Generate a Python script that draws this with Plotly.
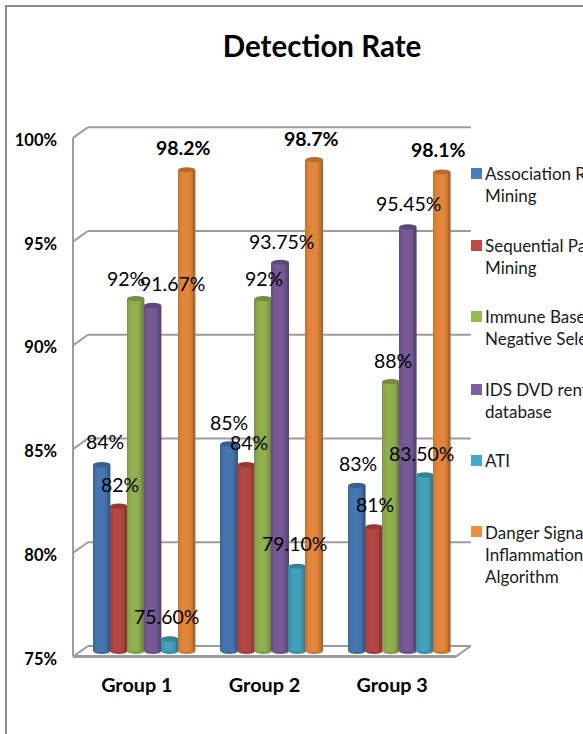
import plotly.graph_objects as go

# Chart data
groups = ["Group 1", "Group 2", "Group 3"]
series_names = [
    "Association Rule<br>Mining",
    "Sequential Pattern<br>Mining",
    "Immune Based<br>Negative Selection",
    "IDS DVD rental<br>database",
    "ATI",
    "Danger Signal<br>Inflammation<br>Algorithm",
]
association = [84, 85, 83]
sequential = [82, 84, 81]
immune = [92, 92, 88]
ids_dvd = [91.67, 93.75, 95.45]
ati = [75.60, 79.10, 83.50]
danger = [98.2, 98.7, 98.1]
series_values = [association, sequential, immune, ids_dvd, ati, danger]

tick_values = [75, 80, 85, 90, 95, 100]
tick_labels = ["75%", "80%", "85%", "90%", "95%", "100%"]

label_texts = [
    ["84%", "85%", "83%"],
    ["82%", "84%", "81%"],
    ["92%", "92%", "88%"],
    ["91.67%", "93.75%", "95.45%"],
    ["75.60%", "79.10%", "83.50%"],
    ["98.2%", "98.7%", "98.1%"],
]
colors = ["#4a7ebb", "#be4b48", "#98b954", "#7d60a0", "#46aac5", "#f08e3e"]

# Hand placement of the value labels, as (dx, dy) pixels from the top of each cylinder
label_nudges = [
    [(3, 23), (0, 21), (1, 22)],
    [(1, 22), (3, 22), (1, 22)],
    [(-10, 20), (1, 20), (2, 21)],
    [(20, 22), (1, 21), (0, 23)],
    [(-3, 22), (-3, 23), (-4, 21)],
    [(-3, 22), (-3, 21), (-4, 22)],
]

W, H = 583, 734

# Plane through the middle of the cylinders, in pixels
PX_PER_GROUP = 127.6
PX_PER_PCT = 20.75
X0_PX = 144.3
Y75_PX = 651.3
DEPTH_X = 7.5 / PX_PER_GROUP
DEPTH_Y = 5.3 / PX_PER_PCT

BAR_W = 17.0 / PX_PER_GROUP
STRIPS = 12
CAP_H = 2.6 / PX_PER_PCT

GRID = "#9c9c9c"
BORDER = "#8c8c8c"
FONT = "Lato, Carlito, Calibri, sans-serif"


def shade(hex_color, f):
    r, g, b = (int(hex_color[i:i + 2], 16) for i in (1, 3, 5))
    return f"rgb({min(255, int(r * f))},{min(255, int(g * f))},{min(255, int(b * f))})"


def cylinder_factor(t):
    # t runs from -1 at the left edge to 1 at the right edge
    return 0.95 - 0.22 * ((t + 0.1) ** 2) ** 1.5


fig = go.Figure()
shapes = []

# Walls and floor sit behind the cylinders
left_f, left_b = -0.5 - DEPTH_X, -0.5 + DEPTH_X
right_f, right_b = 2.5 - DEPTH_X, 2.5 + DEPTH_X
for tick in tick_values:
    shapes.append(dict(type="line", layer="below", x0=left_f, y0=tick - DEPTH_Y, x1=left_b, y1=tick + DEPTH_Y,
                       xref="x", yref="y", line=dict(color=GRID, width=2)))
    shapes.append(dict(type="line", layer="below", x0=left_b, y0=tick + DEPTH_Y, x1=right_b, y1=tick + DEPTH_Y,
                       xref="x", yref="y", line=dict(color=GRID, width=2)))
shapes.append(dict(type="line", layer="below", x0=left_f, y0=75 - DEPTH_Y, x1=left_f, y1=100 - DEPTH_Y,
                   xref="x", yref="y", line=dict(color=GRID, width=2)))
shapes.append(dict(type="line", layer="below", x0=left_f, y0=75 - DEPTH_Y, x1=right_f, y1=75 - DEPTH_Y,
                   xref="x", yref="y", line=dict(color=GRID, width=3)))
shapes.append(dict(type="line", layer="below", x0=right_f, y0=75 - DEPTH_Y, x1=right_b, y1=75 + DEPTH_Y,
                   xref="x", yref="y", line=dict(color=GRID, width=2)))

# Each cylinder is a run of narrow bars whose shade follows the curved surface
strip_w = BAR_W / STRIPS
for s, (values, color) in enumerate(zip(series_values, colors)):
    centre_off = (s - 2.5) * BAR_W
    for k in range(STRIPS):
        t = -1 + (2 * k + 1) / STRIPS
        fig.add_trace(go.Bar(
            x=[g + centre_off + t * BAR_W / 2 for g in range(len(groups))],
            y=[v - 75 for v in values],
            base=75,
            width=strip_w * 1.15,
            marker=dict(color=shade(color, cylinder_factor(t)), line=dict(width=0)),
            showlegend=False,
            hoverinfo="skip",
        ))
    for g, v in enumerate(values):
        cx = g + centre_off
        # rounded foot and darker top cap
        shapes.append(dict(type="circle", layer="below", xref="x", yref="y",
                           x0=cx - BAR_W / 2, x1=cx + BAR_W / 2, y0=75 - CAP_H, y1=75 + CAP_H,
                           fillcolor=shade(color, 0.85), line=dict(width=0)))
        shapes.append(dict(type="circle", layer="above", xref="x", yref="y",
                           x0=cx - BAR_W / 2, x1=cx + BAR_W / 2, y0=v - CAP_H, y1=v + CAP_H,
                           fillcolor=shade(color, 0.76), line=dict(width=0)))

# Front-plane axes carry the tick labels
fig.add_trace(go.Scatter(x=[0, 1, 2], y=[75, 75, 75], xaxis="x2", yaxis="y2", mode="markers",
                         marker=dict(opacity=0), showlegend=False, hoverinfo="skip"))

annotations = []
for s, values in enumerate(series_values):
    centre_off = (s - 2.5) * BAR_W
    for g, v in enumerate(values):
        dx, dy = label_nudges[s][g]
        annotations.append(dict(
            x=g + centre_off, y=v, xref="x", yref="y", xshift=dx, yshift=dy,
            text=label_texts[s][g], showarrow=False, xanchor="center", yanchor="middle",
            font=dict(family=FONT, size=19.5, color="#000000",
                      weight="bold" if s == 5 else "normal"),
        ))

# Legend keys and wrapped entries down the right side, cut off by the page edge
legend_tops = [168, 240, 311, 384, 455, 526]
legend_text_tops = [161, 233, 304, 377, 448, 520]
for top, text_top, name, color in zip(legend_tops, legend_text_tops, series_names, colors):
    shapes.append(dict(type="rect", xref="paper", yref="paper",
                       x0=471 / W, x1=482 / W, y0=1 - (top + 11) / H, y1=1 - top / H,
                       fillcolor=color, line=dict(width=0)))
    annotations.append(dict(
        x=483 / W, y=1 - text_top / H, xref="paper", yref="paper",
        text=name, showarrow=False, xanchor="left", yanchor="top", align="left",
        font=dict(family=FONT, size=17, color="#1a1a1a"),
    ))

# Outer chart border along the top and left
shapes.append(dict(type="line", xref="paper", yref="paper", x0=5 / W, x1=1, y0=1 - 6 / H, y1=1 - 6 / H,
                   line=dict(color=BORDER, width=2)))
shapes.append(dict(type="line", xref="paper", yref="paper", x0=6 / W, x1=6 / W, y0=0, y1=1 - 5 / H,
                   line=dict(color=BORDER, width=2)))

fig.update_layout(
    width=W,
    height=H,
    margin=dict(l=0, r=0, t=0, b=0, autoexpand=False),
    paper_bgcolor="white",
    plot_bgcolor="rgba(0,0,0,0)",
    barmode="overlay",
    showlegend=False,
    title=dict(text="Detection Rate", x=322 / W, y=1 - 47 / H, xanchor="center", yanchor="middle",
               font=dict(family=FONT, size=29.5, color="#000000", weight="bold")),
    xaxis=dict(domain=[0, 1], range=[-X0_PX / PX_PER_GROUP, (W - X0_PX) / PX_PER_GROUP], visible=False),
    yaxis=dict(domain=[0, 1], range=[75 - (H - Y75_PX) / PX_PER_PCT, 75 + Y75_PX / PX_PER_PCT], visible=False),
    xaxis2=dict(
        domain=[73 / W, 456 / W], range=[-0.5, 2.5], anchor="y2",
        tickmode="array", tickvals=[0, 1, 2], ticktext=groups, showgrid=False, zeroline=False,
        showline=False, ticks="", ticklabelstandoff=12, automargin=False,
        tickfont=dict(family=FONT, size=19.8, color="#000000", weight="bold"),
    ),
    yaxis2=dict(
        domain=[1 - 659 / H, 1 - 140 / H], range=[75, 100], anchor="x2",
        tickmode="array", tickvals=tick_values, ticktext=tick_labels, showgrid=False, zeroline=False,
        showline=False, ticks="", ticklabelstandoff=15, automargin=False,
        tickfont=dict(family=FONT, size=16.5, color="#000000", weight="bold"),
    ),
    shapes=shapes,
    annotations=annotations,
)

fig.write_html("out.html", config={"displayModeBar": False})
